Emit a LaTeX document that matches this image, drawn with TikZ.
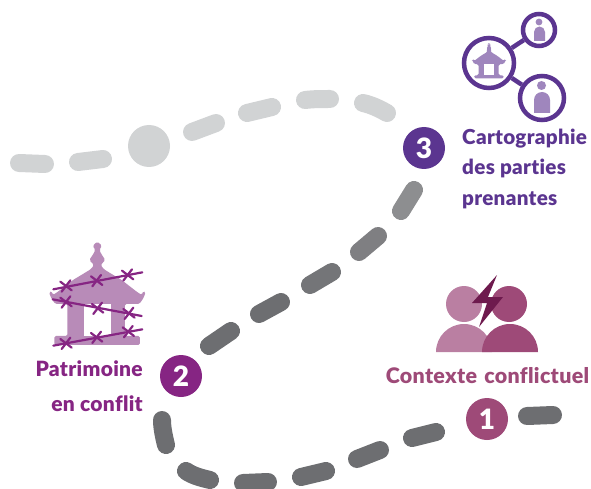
\documentclass[tikz,border=0pt]{standalone}
\usepackage{fontspec}
\setmainfont{Lato}[BoldFont={Lato Black},Ligatures=NoCommon,BoldFeatures={LetterSpace=1.5}]
\definecolor{cone}{HTML}{9E4A78}
\definecolor{conelight}{HTML}{BA7FA2}
\definecolor{cbolt}{HTML}{6E1A4E}
\definecolor{ctwo}{HTML}{862583}
\definecolor{ctwolight}{HTML}{B88BB8}
\definecolor{cthree}{HTML}{5B3590}
\definecolor{cthreelight}{HTML}{9F86BD}
\definecolor{dashgrey}{HTML}{D1D3D4}
\definecolor{dashdark}{HTML}{6D6E71}
\tikzset{
  lightdash/.style={draw=dashgrey,line width=18pt,line cap=round},
  darkdash/.style={draw=dashdark,line width=18pt,line cap=round},
  badge/.style={circle,minimum size=42pt,inner sep=0pt,text=white,font=\bfseries\fontsize{28}{28}\selectfont},
  captionone/.style={inner sep=0pt,font=\bfseries\fontsize{21.4}{21.4}\selectfont},
  captiontwo/.style={inner sep=0pt,font=\bfseries\fontsize{21}{21}\selectfont},
  captionthree/.style={inner sep=0pt,font=\bfseries\fontsize{20.6}{20.6}\selectfont},
  ring/.style={circle,draw=cthree,line width=4.5pt,fill=white,inner sep=0pt},
  wire/.style={draw=ctwo,line width=2.2pt,line cap=round},
}
\newcommand{\templeshape}[1]{%
  \fill[#1,rounded corners=1.5pt] (202,35)--(216,47)--(208,60)--(214,72)--(226,90)--(212,105)--(222,118)--(275,150)--(320,185)--(335,195)--(340,183)--(347,187)--(340,205)--(328,222)--(285,222)--(285,318)--(330,318)--(330,345)--(73,345)--(73,318)--(112,318)--(112,222)--(76,222)--(64,205)--(57,187)--(64,183)--(69,195)--(84,185)--(129,150)--(182,118)--(192,105)--(178,90)--(190,72)--(196,60)--(188,47)--cycle;
  \fill[white] (162,222) rectangle (243,318);
}
\newcommand{\barbx}[2]{%
  \draw[wire] (#1-17,#2-13)--(#1+17,#2+13);
  \draw[wire] (#1-13,#2+17)--(#1+13,#2-17);
}
\begin{document}
\begin{tikzpicture}[x=1pt,y=-1pt]
\useasboundingbox (0,0) rectangle (591,489);
% light path
\draw[lightdash] (19,163)--(45,164);
\draw[lightdash] (78,162)--(103,159);
\fill[dashgrey] (149,146) circle (21);
\draw[lightdash] (192,132)--(216,123);
\draw[lightdash] (247,113)--(272,107);
\draw[lightdash] (305,100) .. controls (313,99) and (322,99) .. (330,99);
\draw[lightdash] (363,103) .. controls (372,105) and (380,109) .. (387,113);
% dark path
\draw[darkdash,draw=dashdark!78] (414,190)--(401,211);
\draw[darkdash,draw=dashdark!88] (378,236)--(359,252);
\draw[darkdash,draw=dashdark!95] (332,272)--(310,285);
\draw[darkdash] (281,302)--(259,314);
\draw[darkdash] (231,331)--(209,346);
\draw[darkdash] (162,420) .. controls (162,428) and (164,437) .. (166,445);
\draw[darkdash] (186,471) .. controls (193,476) and (202,478) .. (210,480);
\draw[darkdash] (243,483)--(268,482);
\draw[darkdash] (301,477)--(326,471);
\draw[darkdash] (357,459)--(380,450);
\draw[darkdash] (412,438)--(436,432);
\draw[darkdash] (527,416)--(553,415);
% badges
\node[badge,fill=cone] (one) at (487,419) {1};
\node[badge,fill=ctwo] (two) at (181,376) {2};
\node[badge,fill=cthree] (three) at (424,148) {3};
% conflict icon
\fill[conelight] (464,304) circle (18);
\fill[conelight] (436,352) arc[start angle=180,end angle=0,x radius=28,y radius=-28] -- cycle;
\fill[cone] (509,304) circle (18);
\fill[cone] (482,352) arc[start angle=180,end angle=0,x radius=28,y radius=-28] -- cycle;
\fill[cbolt] (497,275)--(472,303)--(487,303)--(479,327)--(503,297)--(488,297)--cycle;
\node[captionone,text=cone,anchor=base] (ctx) at (487.5,383) {Contexte\hspace{2pt} conflictuel};
% heritage in conflict
\begin{scope}[shift={(30,230)},scale=0.3333]
  \templeshape{ctwolight}
  \draw[wire] (70,178)--(337,127);
  \draw[wire] (68,208)--(335,258);
  \draw[wire] (70,347)--(337,298);
  \barbx{108}{168}\barbx{200}{152}\barbx{293}{135}
  \barbx{108}{216}\barbx{203}{235}\barbx{297}{250}
  \barbx{108}{340}\barbx{200}{322}\barbx{295}{305}
\end{scope}
\node[captiontwo,text=ctwo,anchor=base east] (pat) at (143,376) {Patrimoine};
\node[captiontwo,text=ctwo,anchor=base east] (enc) at (143,411) {en conflit};
% stakeholder network
\node[ring,minimum size=50pt] (hub) at (489,63) {};
\node[ring,minimum size=32pt] (small) at (539,30) {};
\node[ring,minimum size=44pt] (large) at (542,98) {};
\draw[cthree,line width=4.5pt] (hub)--(small);
\draw[cthree,line width=4.5pt] (hub)--(large);
\begin{scope}[shift={(465.8,38.7)},scale=0.115]
  \templeshape{cthreelight}
\end{scope}
\fill[cthreelight] (539,22) circle (3.4);
\fill[cthreelight] (534,41) -- (534,32) arc[start angle=180,end angle=0,radius=5.5,y radius=-5.5] -- (545,41) -- cycle;
\fill[cthreelight] (541.5,85.5) circle (4.5);
\fill[cthreelight] (534,113) -- (534,100) arc[start angle=180,end angle=0,x radius=8,y radius=-8] -- (550,113) -- cycle;
\node[captionthree,text=cthree,anchor=base west] (c1) at (462,145) {Cartographie};
\node[captionthree,text=cthree,anchor=base west] (c2) at (462,175) {des parties};
\node[captionthree,text=cthree,anchor=base west] (c3) at (462,205) {prenantes};
\end{tikzpicture}
\end{document}
